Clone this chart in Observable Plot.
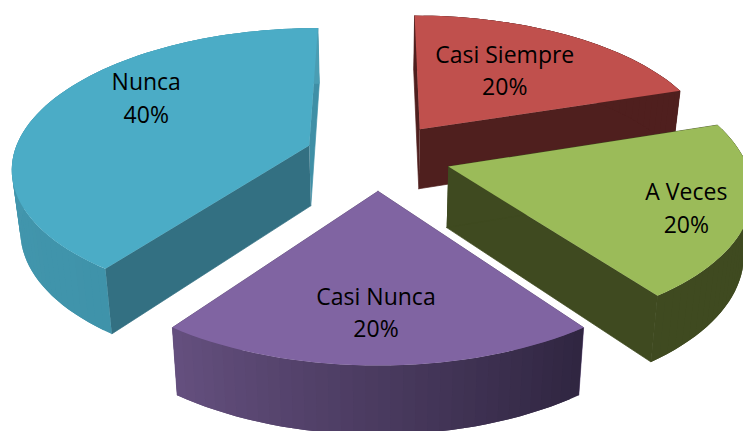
<!DOCTYPE html>
<html>
<head>
<meta charset="utf-8">
<script src="https://cdn.jsdelivr.net/npm/d3@7"></script>
<script src="https://cdn.jsdelivr.net/npm/@observablehq/plot@0.6"></script>
<style>
  html, body { margin: 0; padding: 0; background: #fff; }
  svg { display: block; }
</style>
</head>
<body>
<div id="chart"></div>
<script>
// Survey answers, clockwise from twelve o'clock
const categories = ["Casi Siempre", "A Veces", "Casi Nunca", "Nunca"];
const shares = [20, 20, 20, 40];

// Per-slice colours: top face, the two cut faces, outer wall at start and end of the arc
const topFill = ["#C0504D", "#9BBB59", "#8064A2", "#4BACC6"];
const cutStart = ["#4F1F1E", "#3F4A20", "#5E4A78", "#337082"];
const cutEnd = ["#4F1F1E", "#3F4A20", "#5E4A78", "#3F8FA6"];
const wallStart = ["#4F1F1E", "#3F4A20", "#2F2540", "#3F93AA"];
const wallEnd = ["#4F1F1E", "#3F4A20", "#65507F", "#4A9DB3"];

// Painter's order for the 3D stack, far slices first
const drawOrder = [0, 3, 1, 2];

// Camera model of the tilted, exploded pie
const width = 743, height = 431;
const cx = 377.5, cy = 155.5;
const scaleU = 296, scaleV = 137.5;
const persp = 0.1457, explode = 0.247;
const thickness = 62, lowerShrink = 1.024;

function project(U, V, lower) {
  const w = (1 - persp * V) * (lower ? lowerShrink : 1);
  return {
    x: cx + scaleU * U / w,
    y: cy + (scaleV * V + (lower ? thickness : 0)) / w
  };
}

// Slice angles derived from the shares
const total = d3.sum(shares);
let running = 0;
const slices = categories.map((name, i) => {
  const a0 = running / total * 2 * Math.PI;
  running += shares[i];
  const a1 = running / total * 2 * Math.PI;
  const mid = (a0 + a1) / 2;
  return {
    i, name, share: shares[i], a0, a1,
    U0: explode * Math.sin(mid),
    V0: -explode * Math.cos(mid)
  };
});

const rim = (s, a, lower) =>
  project(s.U0 + Math.sin(a), s.V0 - Math.cos(a), lower);
const apex = (s, lower) => project(s.U0, s.V0, lower);

// Every visible face becomes a ring of vertices, filled by the line mark
const vertices = [];
let faceId = 0;
function addFace(points, color, edge = "none") {
  const id = faceId++;
  for (const p of points) vertices.push({ x: p.x, y: p.y, id, color, edge });
}

const step = 2 * Math.PI / 180;
for (const index of drawOrder) {
  const s = slices[index];
  const n = Math.round((s.a1 - s.a0) / step);
  const angle = (k) => s.a0 + (s.a1 - s.a0) * Math.min(k, n) / n;

  // Radial cut faces, edged in their own colour so no white shows at the wall join
  addFace([apex(s, false), rim(s, s.a1, false), rim(s, s.a1, true), apex(s, true)], cutEnd[index], cutEnd[index]);
  addFace([apex(s, false), rim(s, s.a0, false), rim(s, s.a0, true), apex(s, true)], cutStart[index], cutStart[index]);

  // Outer wall, shaded strip by strip; each strip runs under the next to avoid seams
  const shade = d3.interpolateRgb(wallStart[index], wallEnd[index]);
  for (let k = 0; k < n; k++) {
    addFace([
      rim(s, angle(k), false), rim(s, angle(k + 1), false), rim(s, angle(k + 2), false),
      rim(s, angle(k + 2), true), rim(s, angle(k + 1), true), rim(s, angle(k), true)
    ], shade((k + 0.5) / n));
  }
  // Top face
  const ring = [apex(s, false)];
  for (let k = 0; k <= n; k++) ring.push(rim(s, angle(k), false));
  addFace(ring, topFill[index]);
}

// Label placement relative to each slice's apex
const labelOffset = [[85, -61], [238, 39.5], [-2, 119.5], [-163, -49.5]];
const labels = slices.map((s) => {
  const p = apex(s, false);
  return {
    x: p.x + labelOffset[s.i][0],
    y: p.y + labelOffset[s.i][1],
    text: `${s.name}\n${s.share}%`
  };
});

const plot = Plot.plot({
  width, height,
  margin: 0,
  x: { domain: [0, width], range: [0, width], axis: null },
  y: { domain: [0, height], range: [0, height], axis: null },
  color: { type: "identity" },
  marks: [
    Plot.line(vertices, {
      x: "x", y: "y", z: "id",
      fill: "color", stroke: "edge", strokeWidth: 0.7
    }),
    Plot.text(labels, {
      x: "x", y: "y", text: "text",
      fontFamily: "Open Sans", fontSize: 23, lineHeight: 1.4,
      fill: "#000"
    })
  ]
});
document.getElementById("chart").append(plot);
</script>
</body>
</html>
